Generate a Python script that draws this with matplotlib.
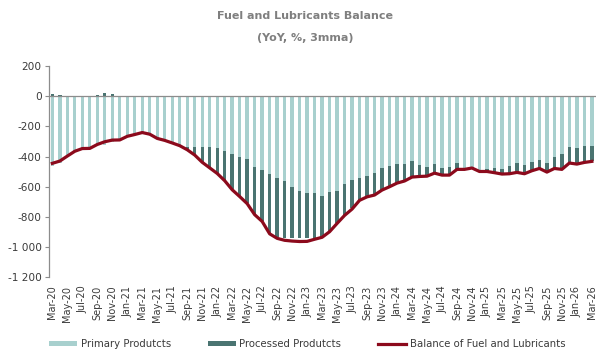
import numpy as np
import matplotlib
matplotlib.use("Agg")
import matplotlib.pyplot as plt
from matplotlib.ticker import FuncFormatter

# Monthly series, Mar-20 .. Mar-26
month_names = ["Jan", "Feb", "Mar", "Apr", "May", "Jun",
               "Jul", "Aug", "Sep", "Oct", "Nov", "Dec"]
labels = []
for k in range(73):
    m = (2 + k) % 12
    y = 20 + (2 + k) // 12
    labels.append(f"{month_names[m]}-{y:02d}")

primary = [
    -460, -440, -397, -365, -347, -346, -325, -322, -303, -290,
    -266, -254, -241, -252, -280, -293, -314, -328, -335, -340,
    -340, -340, -346, -364, -380, -401, -417, -472, -490, -516,
    -541, -560, -600, -629, -644, -644, -660, -637, -629, -582,
    -556, -541, -527, -507, -474, -461, -450, -450, -430, -457,
    -470, -450, -474, -470, -443, -475, -470, -488, -483, -477,
    -483, -463, -443, -457, -437, -424, -446, -404, -382, -338,
    -344, -327, -329,
]

processed = [
    15, 10, 0, 0, 0, 0, 5, 20, 12, 0,
    0, 0, 0, 0, 0, 0, 4, 0, -20, -50,
    -95, -130, -162, -190, -235, -260, -290, -310, -335, -390,
    -395, -380, -340, -311, -296, -296, -275, -256, -209, -203,
    -188, -145, -137, -145, -145, -136, -123, -110, -103, -72,
    -57, -57, -46, -50, -40, -8, -4, -9, -14, -28,
    -31, -49, -60, -55, -55, -53, -55, -73, -101, -103,
    -104, -110, -101,
]

balance = [
    -445, -430, -397, -365, -347, -346, -320, -302, -291, -290,
    -266, -254, -241, -252, -280, -293, -310, -328, -355, -390,
    -438, -475, -512, -560, -620, -665, -712, -785, -830, -912,
    -942, -955, -960, -963, -962, -948, -935, -898, -843, -790,
    -748, -690, -667, -655, -622, -600, -576, -562, -536, -532,
    -530, -510, -523, -523, -485, -485, -476, -499, -499, -507,
    -516, -514, -505, -514, -494, -479, -503, -479, -485, -443,
    -450, -439, -432,
]

c_primary = "#A8D0CE"
c_processed = "#4A7471"
c_balance = "#8C0A1C"
c_axis = "#8C8C8C"
c_text = "#3A3A3A"

x = np.arange(len(labels))
prim = np.array(primary, dtype=float)
proc = np.array(processed, dtype=float)
proc_bottom = np.where(proc < 0, prim, 0.0)

fig = plt.figure(figsize=(6.02, 3.54), dpi=100)
ax = fig.add_axes([0.0807, 0.2167, 0.9087, 0.5969])

w = 0.45
b1 = ax.bar(x, prim, width=w, color=c_primary, label="Primary Produtcts",
            zorder=2)
b2 = ax.bar(x, proc, width=w, bottom=proc_bottom, color=c_processed,
            label="Processed Produtcts", zorder=2)
(l1,) = ax.plot(x, balance, color=c_balance, lw=2.3, solid_joinstyle="round",
                label="Balance of Fuel and Lubricants", zorder=4)
ax.axhline(0, color=c_axis, lw=0.9, zorder=3)

ax.set_xlim(-0.5, len(labels) - 0.5)
ax.set_ylim(-1200, 200)
ax.set_yticks(np.arange(-1200, 201, 200))
ax.yaxis.set_major_formatter(
    FuncFormatter(lambda v, p: f"{int(v):,}".replace(",", " ")))
ax.set_xticks(x[::2])
ax.set_xticklabels(labels[::2], rotation=90)

for s in ("top", "right", "bottom"):
    ax.spines[s].set_visible(False)
ax.spines["left"].set_color(c_axis)
ax.spines["left"].set_linewidth(0.9)
ax.tick_params(axis="y", colors=c_axis, labelcolor=c_text, labelsize=7.6,
               length=3, width=0.8, pad=2)
ax.tick_params(axis="x", length=0, labelcolor=c_text, labelsize=7.0, pad=6)

fig.text(0.507, 0.955, "Fuel and Lubricants Balance", ha="center",
         va="center", fontsize=8, fontweight="bold", color="#7F7F7F")
fig.text(0.507, 0.893, "(YoY, %, 3mma)", ha="center", va="center",
         fontsize=8, fontweight="bold", color="#7F7F7F")

fig.legend(handles=[b1, b2, l1], loc="lower left",
           bbox_to_anchor=(0.066, -0.012), ncol=3,
           frameon=False, fontsize=7.3, handlelength=2.8, handleheight=0.45,
           handletextpad=0.35, columnspacing=3.6, labelcolor=c_text)

fig.savefig("out.png", dpi=100)
